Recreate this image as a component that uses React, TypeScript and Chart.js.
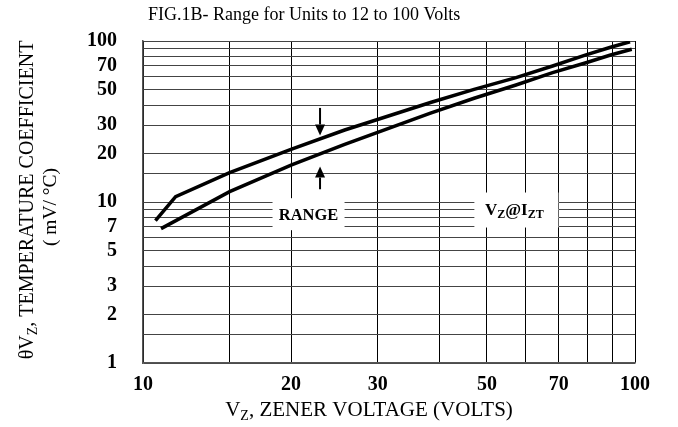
import React, { useEffect, useRef } from 'react';
import { Chart, registerables } from 'chart.js';

Chart.register(...registerables);

// ---- data (log-log chart) ----
const upperVz = [10.6, 11.65, 15.0, 20.05, 25.7, 29.0, 38.4, 47.1, 57.3, 68.0, 79.5, 89.2, 97.7];
const upperTc = [7.65, 10.8, 15.2, 21.3, 28.0, 31.5, 41.5, 50.1, 59.2, 69.9, 81.9, 91.4, 99.0];
const lowerVz = [10.88, 15.0, 20.05, 25.7, 38.4, 47.1, 57.3, 68.0, 79.5, 89.2, 98.5];
const lowerTc = [6.83, 11.6, 17.0, 22.8, 35.6, 44.1, 53.3, 63.6, 73.3, 81.9, 88.8];

const xGridValues = [10, 15, 20, 30, 40, 50, 60, 70, 80, 90, 100];
const xTickLabels = [10, 20, 30, 50, 70, 100];
const yGridValues = [1, 1.5, 2, 3, 4, 5, 6, 7, 8, 9, 10, 15, 20, 30, 40, 50, 60, 70, 80, 90, 100];
const yTickLabels = [1, 2, 3, 5, 7, 10, 20, 30, 50, 70, 100];

// annotation anchors (data units)
const arrowVz = 22.9;
const downArrowTc = [38.4, 25.9]; // tail, tip
const upArrowTc = [12.0, 16.6]; // tail, tip
const rangeLabelAt = { vz: 21.7, tc: 8.4 };
const vzLabelAt = { vz: 57.4, tc: 8.98 };

const titleText = 'FIG.1B- Range for Units to 12 to 100 Volts';
const xTitle = [{ t: 'V' }, { t: 'Z', sub: true }, { t: ', ZENER VOLTAGE (VOLTS)' }];
const yTitle1 = [{ t: 'θV' }, { t: 'Z', sub: true }, { t: ', TEMPERATURE COEFFICIENT' }];
const yTitle2 = '( mV/ °C)';
const rangeText = 'RANGE';
const vzText = [{ t: 'V' }, { t: 'Z', sub: true }, { t: '@I' }, { t: 'ZT', sub: true }];

const SERIF = "'Liberation Serif', 'Times New Roman', serif";

type Seg = { t: string; sub?: boolean };

function drawRich(
  ctx: CanvasRenderingContext2D,
  segs: Seg[],
  x: number,
  y: number,
  align: 'left' | 'center',
  size: number,
  bold: boolean
) {
  const main = `${bold ? 'bold ' : ''}${size}px ${SERIF}`;
  const sub = `${bold ? 'bold ' : ''}${Math.round(size * 0.68)}px ${SERIF}`;
  let w = 0;
  for (const s of segs) {
    ctx.font = s.sub ? sub : main;
    w += ctx.measureText(s.t).width;
  }
  let cx = align === 'center' ? x - w / 2 : x;
  ctx.textAlign = 'left';
  ctx.textBaseline = 'alphabetic';
  for (const s of segs) {
    ctx.font = s.sub ? sub : main;
    ctx.fillText(s.t, cx, y + (s.sub ? size * 0.2 : 0));
    cx += ctx.measureText(s.t).width;
  }
}

function drawArrow(ctx: CanvasRenderingContext2D, x: number, yTail: number, yTip: number) {
  const dir = yTip > yTail ? 1 : -1;
  const headLen = 11;
  const halfW = 5;
  ctx.save();
  ctx.strokeStyle = '#000';
  ctx.fillStyle = '#000';
  ctx.lineWidth = 2;
  ctx.beginPath();
  ctx.moveTo(x, yTail);
  ctx.lineTo(x, yTip - dir * headLen);
  ctx.stroke();
  ctx.beginPath();
  ctx.moveTo(x, yTip);
  ctx.lineTo(x - halfW, yTip - dir * headLen);
  ctx.lineTo(x + halfW, yTip - dir * headLen);
  ctx.closePath();
  ctx.fill();
  ctx.restore();
}

const annotations = {
  id: 'annotations',
  afterDatasetsDraw(chart: any) {
    const { ctx, scales } = chart;
    const x = scales.x;
    const y = scales.y;
    ctx.save();
    ctx.fillStyle = '#000';

    // arrows
    const ax = x.getPixelForValue(arrowVz);
    drawArrow(ctx, ax, y.getPixelForValue(downArrowTc[0]), y.getPixelForValue(downArrowTc[1]));
    drawArrow(ctx, ax, y.getPixelForValue(upArrowTc[0]), y.getPixelForValue(upArrowTc[1]));

    // RANGE label box
    const rx = x.getPixelForValue(rangeLabelAt.vz);
    const ry = y.getPixelForValue(rangeLabelAt.tc);
    ctx.fillStyle = '#fff';
    ctx.fillRect(rx - 36, ry - 16, 72, 32);
    ctx.fillStyle = '#000';
    drawRich(ctx, [{ t: rangeText }], rx, ry + 6, 'center', 16.5, true);

    // Vz@Izt label box
    const vx = x.getPixelForValue(vzLabelAt.vz);
    const vy = y.getPixelForValue(vzLabelAt.tc);
    ctx.fillStyle = '#fff';
    ctx.fillRect(vx - 42, vy - 17, 84, 35);
    ctx.fillStyle = '#000';
    drawRich(ctx, vzText, vx - 2, vy + 5, 'center', 17, true);
    ctx.restore();
  },
  afterDraw(chart: any) {
    const { ctx } = chart;
    ctx.save();
    ctx.fillStyle = '#000';
    // title
    ctx.font = `18px ${SERIF}`;
    ctx.textAlign = 'left';
    ctx.textBaseline = 'alphabetic';
    ctx.fillText(titleText, 148, 20);
    // x axis title
    drawRich(ctx, xTitle, 369, 416, 'center', 21, false);
    // y axis title (rotated)
    ctx.save();
    ctx.translate(33, 200);
    ctx.rotate(-Math.PI / 2);
    drawRich(ctx, yTitle1, 0, 0, 'center', 20, false);
    ctx.restore();
    ctx.save();
    ctx.translate(56, 207);
    ctx.rotate(-Math.PI / 2);
    drawRich(ctx, [{ t: yTitle2 }], 0, 0, 'center', 19.5, false);
    ctx.restore();
    ctx.restore();
  },
};

export default function App() {
  const canvasRef = useRef<HTMLCanvasElement | null>(null);

  useEffect(() => {
    const canvas = canvasRef.current;
    if (!canvas) return;
    const chart = new Chart(canvas, {
      type: 'line',
      data: {
        datasets: [
          {
            data: upperVz.map((v, i) => ({ x: v, y: upperTc[i] })),
            borderColor: '#000',
            borderWidth: 3.5,
            pointRadius: 0,
            tension: 0,
            fill: false,
          },
          {
            data: lowerVz.map((v, i) => ({ x: v, y: lowerTc[i] })),
            borderColor: '#000',
            borderWidth: 3.5,
            pointRadius: 0,
            tension: 0,
            fill: false,
          },
        ],
      },
      options: {
        animation: false,
        responsive: false,
        devicePixelRatio: 1,
        layout: { padding: { left: 0, top: 41, right: 43, bottom: 0 } },
        plugins: {
          legend: { display: false },
          tooltip: { enabled: false },
          title: { display: false },
        },
        scales: {
          x: {
            type: 'logarithmic',
            min: 10,
            max: 100,
            position: 'bottom',
            afterBuildTicks: (s: any) => {
              s.ticks = xGridValues.map((v) => ({ value: v }));
            },
            afterFit: (s: any) => {
              s.height = 64;
            },
            ticks: {
              autoSkip: false,
              maxRotation: 0,
              padding: 10,
              color: '#000',
              font: { family: SERIF, size: 20, weight: 'bold' },
              callback: (v: any) => (xTickLabels.includes(Number(v)) ? String(v) : ''),
            },
            grid: { color: '#000', lineWidth: 1, drawTicks: false },
            border: { color: '#555', width: 1.5 },
          },
          y: {
            type: 'logarithmic',
            min: 1,
            max: 100,
            position: 'left',
            afterBuildTicks: (s: any) => {
              s.ticks = yGridValues.map((v) => ({ value: v }));
            },
            afterFit: (s: any) => {
              s.width = 143;
            },
            ticks: {
              autoSkip: false,
              padding: 26,
              color: '#000',
              font: { family: SERIF, size: 20, weight: 'bold' },
              callback: (v: any) => (yTickLabels.includes(Number(v)) ? String(v) : ''),
            },
            grid: { color: '#444', lineWidth: 1, drawTicks: false },
            border: { color: '#555', width: 1.5 },
          },
        },
      },
      plugins: [annotations],
    } as any);
    return () => chart.destroy();
  }, []);

  return (
    <div style={{ position: 'absolute', left: 0, top: 0, width: 678, height: 427, background: '#fff' }}>
      <canvas ref={canvasRef} width={678} height={427} style={{ display: 'block' }} />
    </div>
  );
}
